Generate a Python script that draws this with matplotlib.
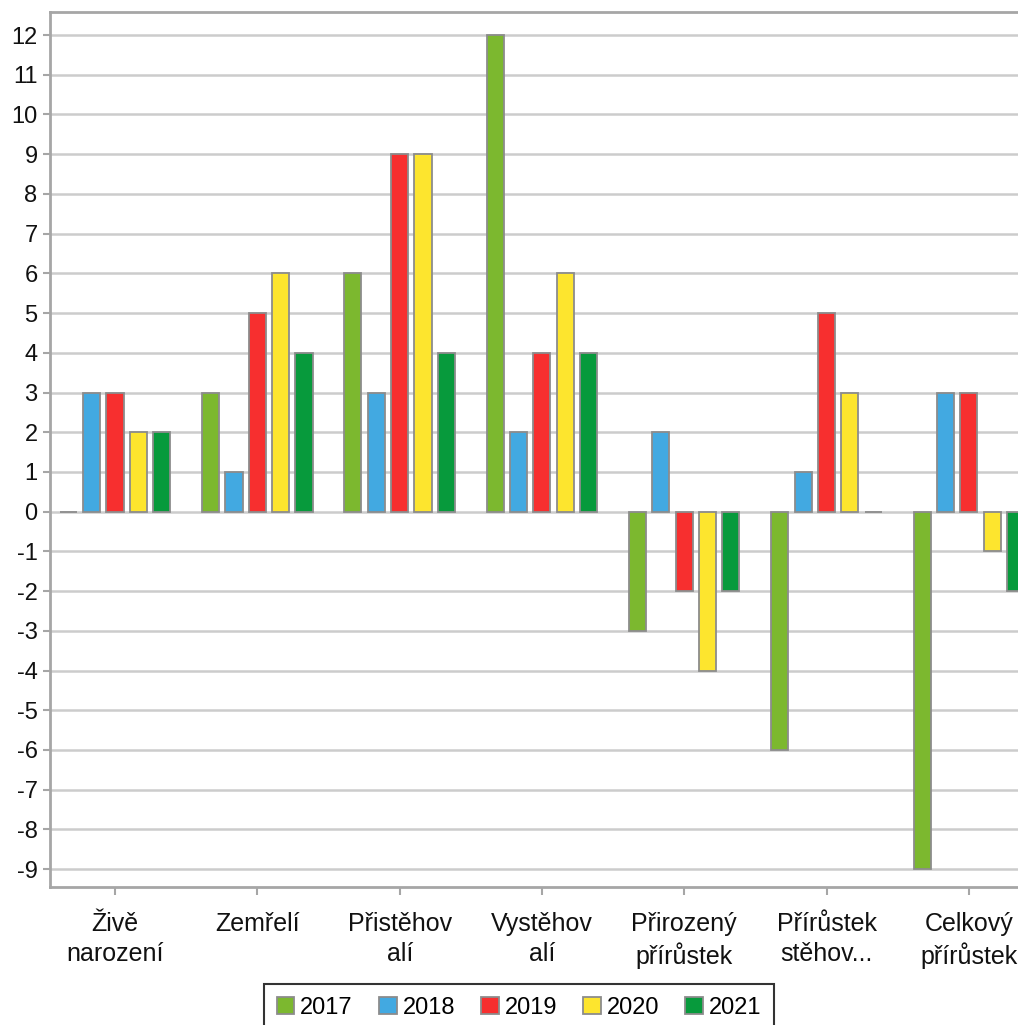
import numpy as np
import matplotlib
matplotlib.use("Agg")
import matplotlib.pyplot as plt

plt.rcParams["font.family"] = ["Liberation Sans", "DejaVu Sans"]

# ── Data ──────────────────────────────────────────────────────────────────────
categories = ["Živě\nnarození", "Zemřelí", "Přistěhov\nalí", "Vystěhov\nalí",
              "Přirozený\npřírůstek", "Přírůstek\nstěhov...", "Celkový\npřírůstek"]
years = ["2017", "2018", "2019", "2020", "2021"]
v2017 = [0, 3, 6, 12, -3, -6, -9]
v2018 = [3, 1, 3, 2, 2, 1, 3]
v2019 = [3, 5, 9, 4, -2, 5, 3]
v2020 = [2, 6, 9, 6, -4, 3, -1]
v2021 = [2, 4, 4, 4, -2, 0, -2]
series = [v2017, v2018, v2019, v2020, v2021]
colors = ["#7cb82f", "#42a9e1", "#f72f2f", "#fde52e", "#079a3c"]
yticks = list(range(-9, 13))

# ── Figure ────────────────────────────────────────────────────────────────────
fig = plt.figure(figsize=(10.18, 10.25), dpi=100)
# plot area runs past the right edge (the source image is cropped there)
ax = fig.add_axes([50 / 1018, 1 - 887 / 1025, 996 / 1018, 875 / 1025])

x = np.arange(len(categories))
step = 0.164
width = 0.12
for i, (vals, c, yr) in enumerate(zip(series, colors, years)):
    ax.bar(x + (i - 2) * step, vals, width, color=c, edgecolor="#8c8c8c",
           linewidth=1.3, label=yr, zorder=3)

ax.set_xlim(-0.457, -0.457 + 996 / 142.3)
ax.set_ylim(-9.45, 12.58)
ax.set_yticks(yticks)
ax.set_yticklabels([str(t) for t in yticks], fontsize=17, color="#111111")
ax.set_xticks(x)
ax.set_xticklabels(categories, fontsize=18, color="#111111", linespacing=1.3,
                   va="top")
ax.grid(axis="y", color="#cccccc", linewidth=1.8, zorder=0)
ax.set_axisbelow(True)

for s in ["left", "bottom", "top"]:
    ax.spines[s].set_color("#a6a6a6")
    ax.spines[s].set_linewidth(2)
ax.spines["right"].set_visible(False)
ax.tick_params(axis="y", length=5, width=1.5, color="#a6a6a6", pad=4)
ax.tick_params(axis="x", length=6, width=1.5, color="#a6a6a6", pad=12)

# legend box is cut by the bottom edge, as in the source
leg = fig.legend(loc="upper center", bbox_to_anchor=(519 / 1018, 1 - 984 / 1025),
                 ncol=5, fontsize=17, frameon=True, fancybox=False,
                 handlelength=0.75, handleheight=0.75, handletextpad=0.25,
                 columnspacing=1.1, borderpad=0.55, borderaxespad=0,
                 edgecolor="#000000")
leg.get_frame().set_linewidth(1.5)

fig.savefig("out.png", dpi=100)
